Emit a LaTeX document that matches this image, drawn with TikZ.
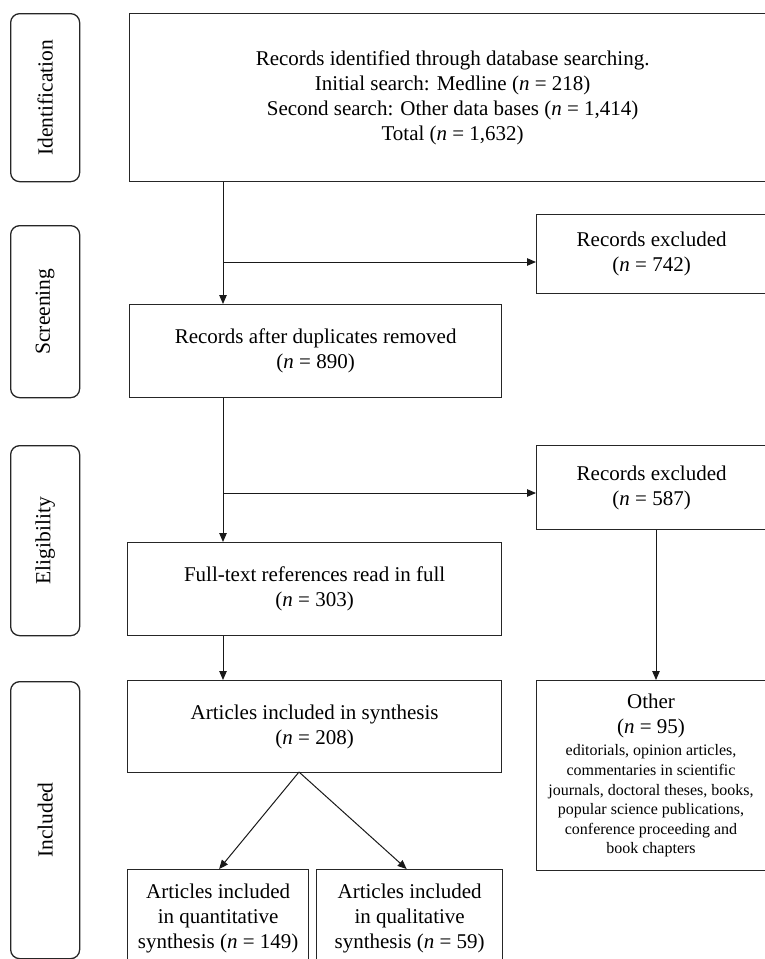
\documentclass[tikz,border=0pt]{standalone}
\usepackage{fontspec}
\setmainfont{Liberation Serif}
\usetikzlibrary{arrows.meta}
\begin{document}
\begin{tikzpicture}[x=1pt,y=-1pt,
  box/.style={draw=black!85,line width=1.3pt,inner sep=0pt,anchor=north west,align=center,font=\fontsize{21}{25}\selectfont},
  side/.style={draw=black!85,line width=1.3pt,rounded corners=9pt,anchor=north west,inner sep=0pt,minimum width=69pt},
  sidelabel/.style={rotate=90,font=\fontsize{21.5}{25}\selectfont},
  arr/.style={draw=black!90,line width=1pt,-{Triangle[length=9pt,width=7.5pt]}},
  small/.style={align=center,font=\fontsize{16}{19.6}\selectfont,inner sep=0pt},
  big/.style={align=center,font=\fontsize{21}{25}\selectfont,inner sep=0pt}]
\useasboundingbox (0,0) rectangle (765,959);
\clip (0,0) rectangle (765,959);

% side phase boxes
\node[side,minimum height=168pt] (sid) at (10,13) {};
\node[sidelabel] (sidt) at (sid.center) {Identification};
\node[side,minimum height=172pt] (ssc) at (10,225) {};
\node[sidelabel] (ssct) at (ssc.center) {Screening};
\node[side,minimum height=190pt] (sel) at (10,445) {};
\node[sidelabel] (selt) at (sel.center) {Eligibility};
\node[side,minimum height=277pt] (sin) at (10,681) {};
\node[sidelabel] (sint) at (sin.center) {Included};

% main boxes
\node[box,minimum width=646pt,minimum height=168pt] (top) at (129,13)
  {Records identified through database searching.\\
   Initial search: Medline (\textit{n} = 218)\\
   Second search: Other data bases (\textit{n} = 1,414)\\
   Total (\textit{n} = 1,632)};
\node[box,minimum width=230pt,minimum height=79pt] (ex1) at (536,214)
  {Records excluded\\(\textit{n} = 742)};
\node[box,minimum width=372pt,minimum height=93pt] (dup) at (129,304)
  {Records after duplicates removed\\(\textit{n} = 890)};
\node[box,minimum width=230pt,minimum height=84pt] (ex2) at (536,445)
  {Records excluded\\(\textit{n} = 587)};
\node[box,minimum width=374pt,minimum height=93pt] (full) at (127,542)
  {Full-text references read in full\\(\textit{n} = 303)};
\node[box,minimum width=374pt,minimum height=92pt] (syn) at (127,680)
  {Articles included in synthesis\\(\textit{n} = 208)};
\node[box,minimum width=230pt,minimum height=190pt] (other) at (536,680) {};
\node[big] (othera) at (651,716) {Other\\(\textit{n} = 95)};
\node[small] (otherb) at (651,801)
  {editorials, opinion articles,\\
   commentaries in scientific\\
   journals, doctoral theses, books,\\
   popular science publications,\\
   conference proceeding and\\
   book chapters};
\node[box,minimum width=181pt,minimum height=98pt] (quant) at (127,869)
  {Articles included\\in quantitative\\synthesis (\textit{n} = 149)};
\node[box,minimum width=186pt,minimum height=98pt] (qual) at (316,869)
  {Articles included\\in qualitative\\synthesis (\textit{n} = 59)};

% connectors
\coordinate (v1) at (223,0);
\coordinate (v2) at (656,0);
\coordinate (b1) at (223,262);
\coordinate (b2) at (223,493);
\coordinate (sp) at (299,772);
\draw[arr] (v1 |- top.south) -- (v1 |- dup.north);
\draw[arr] (b1) -- (b1 -| ex1.west);
\draw[arr] (v1 |- dup.south) -- (v1 |- full.north);
\draw[arr] (b2) -- (b2 -| ex2.west);
\draw[arr] (v1 |- full.south) -- (v1 |- syn.north);
\draw[arr] (v2 |- ex2.south) -- (v2 |- other.north);
\draw[arr] (sp) -- ([xshift=1pt]quant.north);
\draw[arr] (sp) -- ([xshift=-3pt]qual.north);
\end{tikzpicture}
\end{document}
